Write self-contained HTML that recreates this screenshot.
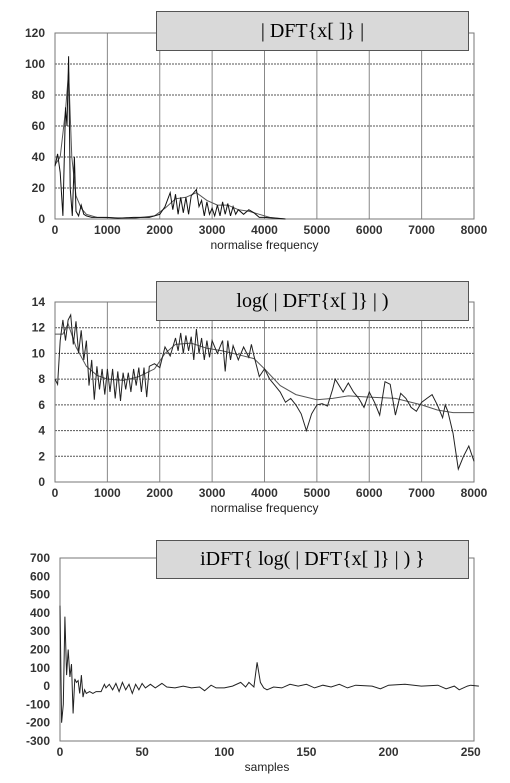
<!DOCTYPE html>
<html><head><meta charset="utf-8">
<style>
body{margin:0;background:#fff;width:510px;height:783px;overflow:hidden;font-family:"Liberation Sans",sans-serif}
svg{position:absolute;left:0;top:0}
.tb{position:absolute;background:#d9d9d9;border:1px solid #555;font-family:"Liberation Serif",serif;font-size:20px;text-align:center;box-sizing:border-box;color:#000}
</style></head><body>
<svg id="s" width="510" height="783"></svg>
<div class="tb" style="left:156px;top:11px;width:313px;height:40px;line-height:38px">| DFT{x[ ]} |</div>
<div class="tb" style="left:156px;top:281px;width:313px;height:40px;line-height:38px">log( | DFT{x[ ]} | )</div>
<div class="tb" style="left:156px;top:540px;width:313px;height:39px;line-height:37px">iDFT{ log( | DFT{x[ ]} | ) }</div>
<script>
// Chart 1 data
const c1RawX=[0,50,100,150,200,230,260,290,330,370,400,450,500,550,600,700,800,1000,1200,1500,1800,2000,2100,2200,2250,2300,2350,2400,2450,2500,2550,2600,2700,2750,2800,2850,2900,2950,3000,3050,3100,3150,3200,3250,3300,3350,3400,3450,3500,3600,3700,3800,3900,4000,4400];
const c1RawY=[34,42,30,2,72,60,105,20,2,40,5,2,9,3,2,1,1,1,0.5,1,1,3,8,17,6,16,3,14,4,14,3,15,19,8,12,2,11,3,7,2,9,2,11,3,10,2,8,3,6,3,6,4,1,1,0];
const c1SmX=[0,100,200,260,320,400,500,600,800,1500,1900,2100,2300,2500,2700,2900,3100,3300,3500,3700,3900,4100,4400];
const c1SmY=[35,40,70,95,40,15,7,3,1,0.5,2,7,13,14,17,12,9,9,6,5,3,1,0];
const c1YTicks=[0,20,40,60,80,100,120];
const c1XTicks=[0,1000,2000,3000,4000,5000,6000,7000,8000];
// Chart 2 data
const c2RawX=[0,50,100,150,200,250,300,350,400,450,500,550,600,650,700,750,800,850,900,950,1000,1050,1100,1150,1200,1250,1300,1350,1400,1450,1500,1550,1600,1650,1700,1750,1800,1900,2000,2100,2200,2300,2350,2400,2450,2500,2550,2600,2650,2700,2750,2800,2850,2900,2950,3000,3100,3200,3250,3300,3350,3400,3500,3600,3700,3750,3800,3900,4000,4100,4200,4300,4400,4500,4600,4700,4800,4900,5000,5100,5200,5300,5350,5500,5600,5700,5800,5900,6000,6100,6200,6300,6400,6500,6600,6700,6800,6900,7000,7100,7200,7300,7400,7450,7500,7600,7700,7800,7900,8000];
const c2RawY=[8,7.6,11,12.6,11,12.6,13,10.7,12.5,10,11.8,9.5,11,7.5,9.5,6.4,9,7.2,8.8,6.8,8.8,7,8.8,6.5,8.6,6.3,8.5,7.2,8.5,7,8.8,7.5,8.9,7,8.9,6.6,9,9.2,8.9,10.5,9.8,11.2,10.2,11.6,10,11.4,10.2,11.3,9.5,11.9,10,11.2,9.5,11,9.7,11,10,11,8.6,11,9.5,10.6,9.5,10.5,9.7,10.7,9.8,8.2,8.8,8,7.5,7,6.2,6.5,6,5.3,4,5.3,6,6.1,5.9,7.2,8,7,7.7,7,6.5,5.8,7,6.2,5.2,7.8,7.6,5.2,6.9,6.5,5.8,5.5,6.2,6.5,6.8,6,5,6,5.5,3.8,1,2,2.8,1.6];
const c2SmX=[0,150,250,400,600,800,1000,1300,1600,1900,2100,2300,2600,2900,3200,3500,3800,4000,4300,4600,5000,5300,5600,6000,6500,7000,7300,7600,8000];
const c2SmY=[11.5,11.5,12.3,10.5,9,8.3,8,7.9,8.2,8.8,10,10.7,10.8,10.4,10.2,9.9,9.6,8.8,7.5,6.8,6.4,6.5,6.7,6.6,6.5,6,5.6,5.4,5.4];
const c2YTicks=[0,2,4,6,8,10,12,14];
// Chart 3 data
const c3X=[0,1,2,3,4,5,6,7,8,9,10,11,12,13,14,15,16,18,20,22,25,27,28,30,32,34,36,38,40,42,44,46,48,50,52,55,58,62,65,70,75,80,85,88,92,95,100,105,110,113,115,118,120,122,124,126,130,135,140,145,150,155,160,165,170,175,180,190,195,200,210,220,230,235,240,243,248,250,255];
const c3Y=[440,-200,-100,380,60,200,50,120,-150,40,20,30,-40,60,-60,-20,-40,-30,-40,-30,-30,10,-10,10,-20,15,-30,20,-20,10,-40,10,-20,15,-10,10,-10,15,-5,-10,0,-10,-5,-25,5,-10,-10,0,20,-5,20,-5,130,20,-10,-20,-5,-10,10,0,10,-10,5,-5,10,-10,5,0,-15,5,10,0,5,-15,0,-20,0,5,0];
const c3YTicks=[-300,-200,-100,0,100,200,300,400,500,600,700];
const c3XTicks=[0,50,100,150,200,250];

const S=document.getElementById('s');const NS='http://www.w3.org/2000/svg';
function mk(t,a,txt){const e=document.createElementNS(NS,t);for(const k in a)e.setAttribute(k,a[k]);if(txt!==undefined)e.textContent=txt;S.appendChild(e);return e;}
function chart(o){
  const sx=v=>o.l+(v-o.x0)/(o.x1-o.x0)*(o.r-o.l), sy=v=>o.b-(v-o.y0)/(o.y1-o.y0)*(o.b-o.t);
  if(o.grid){
    o.xt.forEach(v=>{const g=mk('line',{x1:sx(v),x2:sx(v),y1:o.t,y2:o.b,stroke:'#888','stroke-width':1});
      
      });
    o.yt.forEach(v=>{const g=mk('line',{x1:o.l,x2:o.r,y1:sy(v),y2:sy(v),stroke:'#555','stroke-width':1,'stroke-dasharray':'2,1'});
      
      });
  }
  const fr=mk('rect',{x:o.l,y:o.t,width:o.r-o.l,height:o.b-o.t,fill:'none',stroke:'#777','stroke-width':1});
  
  
  o.yt.forEach(v=>{const t=mk('text',{x:o.l-10,y:sy(v)+4,'text-anchor':'end','font-size':12,'font-weight':'bold',fill:'#333'},v);
    
    });
  o.xt.forEach(v=>{const t=mk('text',{x:sx(v),y:o.b+15,'text-anchor':'middle','font-size':12,'font-weight':'bold',fill:'#333'},v);
    
    });
  const at=mk('text',{x:(o.l+o.r)/2,y:o.b+30,'text-anchor':'middle','font-size':12,fill:'#222'},o.xl);
  
  
  o.series.forEach(s=>{const d=s.x.map((v,i)=>(i?'L':'M')+sx(v).toFixed(1)+','+sy(s.y[i]).toFixed(1)).join('');
    const p=mk('path',{d:d,fill:'none',stroke:s.c,'stroke-width':1});
    
    });
}
chart({n:'dft',l:55,r:474,t:33,b:219,x0:0,x1:8000,y0:0,y1:120,xt:c1XTicks,yt:c1YTicks,grid:true,xl:'normalise frequency',
  series:[{x:c1SmX,y:c1SmY,c:'#555',n:'dft-envelope-line'},{x:c1RawX,y:c1RawY,c:'#111',n:'dft-magnitude-line'}]});
chart({n:'log-dft',l:55,r:474,t:302,b:482,x0:0,x1:8000,y0:0,y1:14,xt:c1XTicks,yt:c2YTicks,grid:true,xl:'normalise frequency',
  series:[{x:c2SmX,y:c2SmY,c:'#555',n:'log-envelope-line'},{x:c2RawX,y:c2RawY,c:'#222',n:'log-magnitude-line'}]});
chart({n:'cepstrum',l:60,r:474,t:558,b:741,x0:0,x1:252,y0:-300,y1:700,xt:c3XTicks,yt:c3YTicks,grid:false,xl:'samples',
  series:[{x:c3X,y:c3Y,c:'#222',n:'cepstrum-line'}]});
</script>
</body></html>
